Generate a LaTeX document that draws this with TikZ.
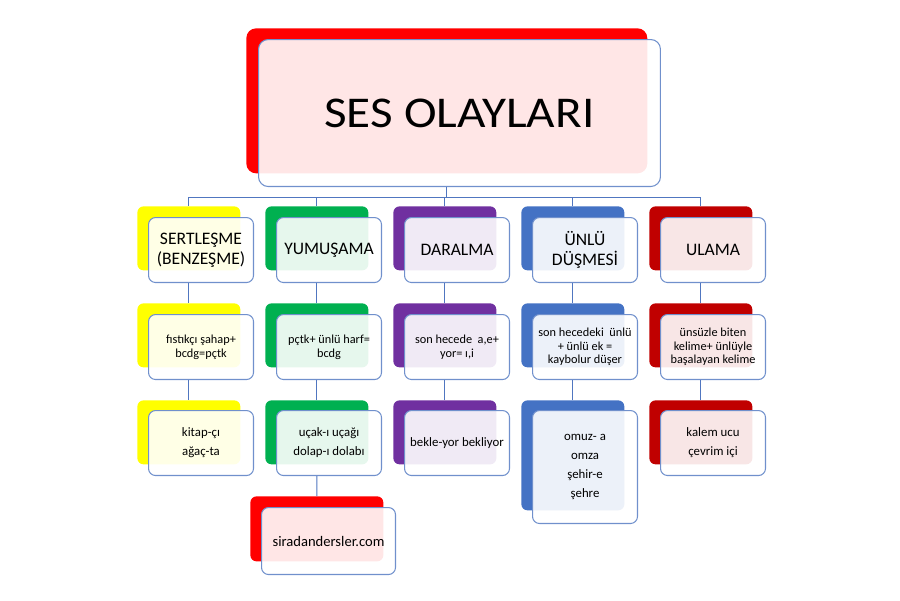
\documentclass[tikz,border=0pt]{standalone}
\usepackage{fontspec}
\setmainfont{Carlito}
\usetikzlibrary{positioning,calc}
\definecolor{sesred}{RGB}{255,0,0}
\definecolor{sesyellow}{RGB}{255,255,0}
\definecolor{sesgreen}{RGB}{0,176,80}
\definecolor{sespurple}{RGB}{112,48,160}
\definecolor{sesblue}{RGB}{68,114,196}
\definecolor{sesdarkred}{RGB}{192,0,0}
\definecolor{framec}{RGB}{112,144,204}
\definecolor{linec}{RGB}{80,118,192}
\tikzset{
    backbox/.style={fill=#1, rounded corners=3.5pt, anchor=north west, inner sep=0pt,
        minimum width=2.06cm, minimum height=1.28cm},
    frontbox/.style={draw=framec, line width=0.6pt, fill=white, fill opacity=0.9,
        text opacity=1, rounded corners=4pt, anchor=north west, inner sep=1pt,
        minimum width=2.1cm, minimum height=1.3cm, align=center},
    headfont/.style={font=\fontsize{10}{11.5}\selectfont},
    smallfont/.style={font=\fontsize{7}{7.8}\selectfont},
    linkline/.style={draw=linec, line width=0.6pt}
}

\begin{document}
\begin{tikzpicture}[x=0.02cm, y=-0.02cm]
    \useasboundingbox (0, 0) rectangle (900, 600);

    % title
    \node[backbox=sesred, rounded corners=5.5pt, minimum width=8.02cm, minimum height=2.9cm]
        (titleb) at (246, 28) {};
    \node[frontbox, rounded corners=5.5pt, minimum width=8.04cm, minimum height=2.94cm,
        font=\fontsize{25}{30}\selectfont]
        (title) at (258, 39) {\scalebox{1.12}[1]{SES OLAYLARI}};

    % back boxes of the columns
    \foreach \c/\x/\col in {sert/137/sesyellow, yum/265/sesgreen, dar/393/sespurple,
                            dus/521/sesblue, ula/649/sesdarkred} {
        \node[backbox=\col] (\c1b) at (\x, 206) {};
        \node[backbox=\col] (\c2b) at (\x, 303) {};
    }
    \foreach \c/\x/\col in {sert/137/sesyellow, yum/265/sesgreen, dar/393/sespurple,
                            ula/649/sesdarkred} {
        \node[backbox=\col] (\c3b) at (\x, 400) {};
    }
    \node[backbox=sesblue, minimum height=2.2cm] (dus3b) at (521, 400) {};
    \node[backbox=sesred, minimum width=2.66cm, minimum height=1.3cm] (yum4b) at (250, 496) {};

    % headings
    \node[frontbox, headfont] (sert1) at (148, 217) {SERTLEŞME\\(BENZEŞME)};
    \node[frontbox, headfont] (yum1) at (276, 217) {YUMUŞAMA};
    \node[frontbox, headfont] (dar1) at (404, 217) {DARALMA};
    \node[frontbox, headfont] (dus1) at (532, 217) {ÜNLÜ\\DÜŞMESİ};
    \node[frontbox, headfont] (ula1) at (660, 217) {ULAMA};

    % rules
    \node[frontbox, smallfont] (sert2) at (148, 314) {fıstıkçı şahap+\\bcdg=pçtk};
    \node[frontbox, smallfont] (yum2) at (276, 314) {pçtk+ ünlü harf=\\bcdg};
    \node[frontbox, smallfont] (dar2) at (404, 314) {son hecede~ a,e+\\yor= ı,i};
    \node[frontbox, smallfont] (dus2) at (532, 314) {son hecedeki~ ünlü\\+ ünlü ek =\\kaybolur düşer};
    \node[frontbox, smallfont] (ula2) at (660, 314) {ünsüzle biten\\kelime+ ünlüyle\\başalayan kelime};

    % examples
    \node[frontbox, font=\fontsize{7.3}{10.8}\selectfont] (sert3) at (148, 410) {kitap-çı\\ağaç-ta};
    \node[frontbox, font=\fontsize{7.3}{10.8}\selectfont] (yum3) at (276, 410) {uçak-ı uçağı\\dolap-ı dolabı};
    \node[frontbox, font=\fontsize{7.3}{10.8}\selectfont] (dar3) at (404, 410) {bekle-yor bekliyor};
    \node[frontbox, font=\fontsize{7.3}{10.8}\selectfont, minimum height=2.26cm]
        (dus3) at (532, 410) {omuz- a\\omza\\şehir-e\\şehre};
    \node[frontbox, font=\fontsize{7.3}{10.8}\selectfont] (ula3) at (660, 410) {kalem ucu\\çevrim içi};
    \node[frontbox, font=\fontsize{8.3}{10}\selectfont, minimum width=2.68cm, minimum height=1.34cm]
        (yum4) at (261, 507) {siradandersler.com};

    % connectors
    \coordinate (bus) at ($(titleb.south |- title.south) + (0, 10)$);
    \draw[linkline] (titleb.south |- title.south) -- (bus);
    \foreach \c in {sert, yum, dar, dus, ula} {
        \draw[linkline] (bus) -| (\c1b.north);
        \draw[linkline] (\c1b.south |- \c1.south) -- (\c2b.north);
        \draw[linkline] (\c2b.south |- \c2.south) -- (\c3b.north);
    }
    \draw[linkline] (yum3b.south |- yum3.south) -- (yum4b.north);
\end{tikzpicture}
\end{document}
